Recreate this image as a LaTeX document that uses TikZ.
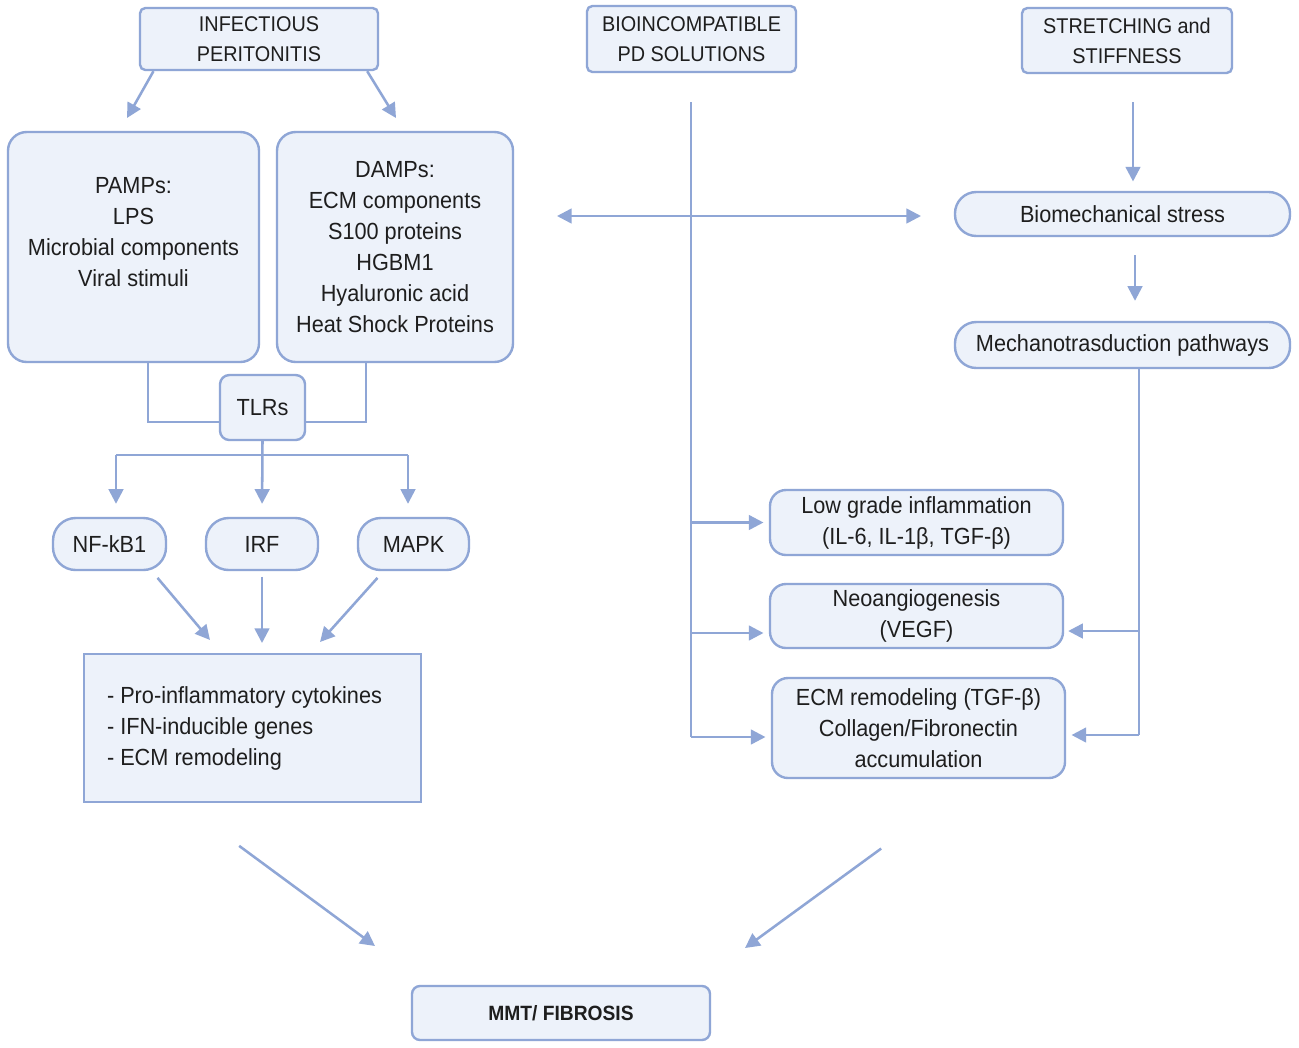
\documentclass[tikz,border=0pt]{standalone}
\usepackage{fontspec}
\setmainfont{Liberation Sans}[FakeStretch=0.93]
\usetikzlibrary{arrows.meta}
\definecolor{edge}{HTML}{8FA6D6}
\definecolor{boxfill}{HTML}{EDF2FA}
\definecolor{txt}{HTML}{1E1E1E}
\tikzset{
  box/.style={draw=edge, fill=boxfill, line width=1.8pt, rounded corners=4pt, inner sep=0pt,
     text=txt, align=center, font=\fontsize{17.5}{23.25}\selectfont},
  bigbox/.style={box, rounded corners=14pt},
  titlebox/.style={box, font=\fontsize{16}{22.5}\selectfont},
  pill/.style={box, rounded corners=17pt},
  sqbox/.style={box, rounded corners=0pt, align=left},
  conn/.style={draw=edge, line width=1.9pt},
  arr/.style={conn, -{Triangle[length=11pt, width=11pt]}},
  arrr/.style={conn, {Triangle[length=11pt, width=11pt]}-{Triangle[length=11pt, width=11pt]}},
}
\begin{document}
\begin{tikzpicture}[x=0.75pt, y=-0.75pt]
\useasboundingbox (0,0) rectangle (1299,1047);
\fill[white] (0,0) rectangle (1299,1047);

% top titles
\node[titlebox, minimum width=238*0.75pt, minimum height=62*0.75pt] (inf) at (259,39) {INFECTIOUS\\PERITONITIS};
\node[titlebox, minimum width=209*0.75pt, minimum height=66*0.75pt] (bio) at (691.5,39) {BIOINCOMPATIBLE\\PD SOLUTIONS};
\node[titlebox, minimum width=210*0.75pt, minimum height=65*0.75pt] (str) at (1127,40.5) {STRETCHING and\\STIFFNESS};

% PAMPs / DAMPs
\node[bigbox, minimum width=251*0.75pt, minimum height=230*0.75pt] (pamps) at (133.5,247) {PAMPs:\\LPS\\Microbial components\\Viral stimuli\\\mbox{}};
\node[bigbox, minimum width=236*0.75pt, minimum height=230*0.75pt] (damps) at (395,247) {DAMPs:\\ECM components\\S100 proteins\\HGBM1\\Hyaluronic acid\\Heat Shock Proteins};

% TLRs
\node[box, rounded corners=7pt, minimum width=85*0.75pt, minimum height=65*0.75pt] (tlrs) at (262.5,407.5) {TLRs};

% pathways
\node[pill, minimum width=113*0.75pt, minimum height=52*0.75pt] (nfkb) at (109.5,544) {NF-kB1};
\node[pill, minimum width=112*0.75pt, minimum height=52*0.75pt] (irf) at (262,544) {IRF};
\node[pill, minimum width=111*0.75pt, minimum height=52*0.75pt] (mapk) at (413.5,544) {MAPK};

% result box
\node[sqbox, minimum width=337*0.75pt, minimum height=148*0.75pt] (res) at (252.5,728) {- Pro-inflammatory cytokines\rule{12pt}{0pt}\\- IFN-inducible genes\\- ECM remodeling};

% right column
\node[pill, rounded corners=16pt, minimum width=335*0.75pt, minimum height=44*0.75pt] (bms) at (1122.5,214) {Biomechanical stress};
\node[pill, rounded corners=16pt, minimum width=335*0.75pt, minimum height=46*0.75pt] (mech) at (1122.5,345) {Mechanotrasduction pathways};

% middle-right boxes
\node[box, rounded corners=12pt, minimum width=293*0.75pt, minimum height=65*0.75pt] (low) at (916.5,522.5) {Low grade inflammation\\(IL-6, IL-1β, TGF-β)};
\node[box, rounded corners=12pt, minimum width=293*0.75pt, minimum height=64*0.75pt] (neo) at (916.5,616) {Neoangiogenesis\\(VEGF)};
\node[box, rounded corners=12pt, minimum width=293*0.75pt, minimum height=100*0.75pt] (ecm) at (918.5,728) {ECM remodeling (TGF-β)\\Collagen/Fibronectin\\accumulation};

% final
\node[box, rounded corners=6pt, minimum width=298*0.75pt, minimum height=54*0.75pt, font=\fontsize{15.5}{20}\selectfont\bfseries] (mmt) at (561,1013) {MMT/ FIBROSIS};

% ---- connectors ----
\coordinate (a1) at (127,118);
\coordinate (a2) at (396,118);
\draw[arr] ([xshift=11pt]inf.south west) -- (a1);
\draw[arr] ([xshift=-9pt]inf.south east) -- (a2);

% to TLRs
\coordinate (t1) at (148,422);
\coordinate (t2) at (366,422);
\draw[conn] (pamps.south -| t1) -- (t1) -- (t1 -| tlrs.west);
\draw[conn] (damps.south -| t2) -- (t2) -- (t2 -| tlrs.east);

% TLR fan
\coordinate (f1) at (116,455);
\coordinate (f2) at (408,455);
\draw[conn] (f1) -- (f2);
\draw[arr, shorten >=13*0.75pt] (tlrs.south) -- (irf.north);
\draw[arr, shorten >=13*0.75pt] (f1) -- (f1 |- nfkb.north);
\draw[arr, shorten >=13*0.75pt] (f2) -- (f2 |- mapk.north);

% to result box
\coordinate (r1) at (210,640);
\coordinate (r2) at (262,643);
\coordinate (r3) at (320,642);
\draw[arr] ([xshift=36pt, yshift=-5pt]nfkb.south) -- (r1);
\draw[arr] ([yshift=-4pt]irf.south) -- (r2);
\draw[arr] ([xshift=-27pt, yshift=-5pt]mapk.south) -- (r3);

% bio vertical
\coordinate (b1) at (691,102);
\coordinate (b2) at (691,737);
\draw[conn] (b1) -- (b2);
\coordinate (h1) at (557,216);
\coordinate (h2) at (921,216);
\draw[arrr] (h1) -- (h2);
\draw[arr, shorten >=4pt] (b1 |- low.west) -- (low.west);
\draw[arr, shorten >=4pt] ([yshift=-12.75pt]b1 |- neo.west) -- ([yshift=-12.75pt]neo.west);
\draw[arr, shorten >=4pt] (b2) -- (b2 -| ecm.west);

% stretching
\coordinate (s1) at (1133,102);
\draw[arr, shorten >=7pt] (s1) -- (s1 |- bms.north);
\coordinate (s2) at (1135,255);
\draw[arr, shorten >=15pt] (s2) -- (s2 |- mech.north);

% mechano to right boxes
\coordinate (m1) at (1139,631);
\coordinate (m2) at (1139,735);
\draw[conn] (mech.south -| m1) -- (m2);
\draw[arr, shorten >=3pt] (m1) -- (m1 -| neo.east);
\draw[arr, shorten >=4pt] (m2) -- (m2 -| ecm.east);

% bottom
\coordinate (z1) at (375,946);
\coordinate (z2) at (745,948);
\draw[arr] ([xshift=-10pt, yshift=-32pt]res.south) -- (z1);
\draw[arr] ([xshift=-28pt, yshift=-52pt]ecm.south) -- (z2);
\end{tikzpicture}
\end{document}
